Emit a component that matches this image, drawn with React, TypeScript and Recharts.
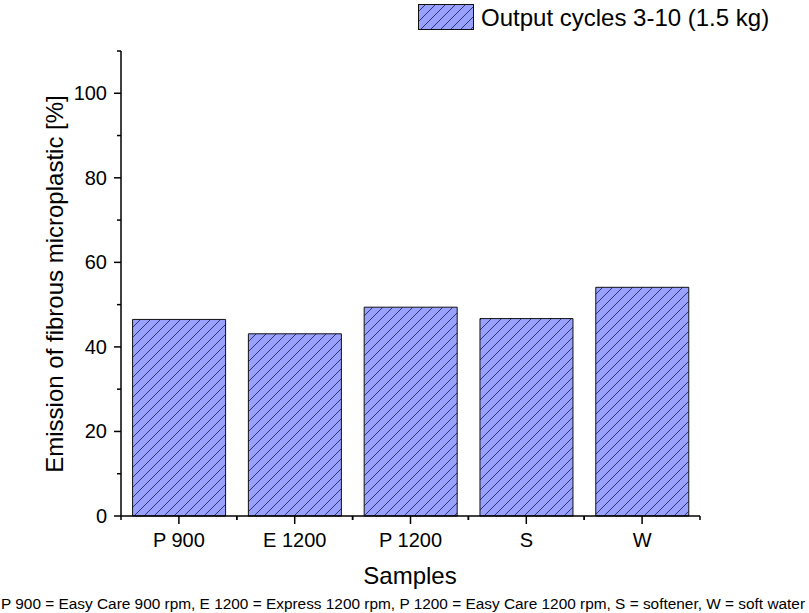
import { BarChart, Bar, XAxis, YAxis } from "recharts";

const samples = ["P 900", "E 1200", "P 1200", "S", "W"];
const emission = [46.5, 43.1, 49.4, 46.7, 54.1];
const yTicks = [0, 10, 20, 30, 40, 50, 60, 70, 80, 90, 100, 110];
const yLabelled = [0, 20, 40, 60, 80, 100];
const seriesName = "Output cycles 3-10 (1.5 kg)";
const yTitle = "Emission of fibrous microplastic [%]";
const xTitle = "Samples";
const footnote =
  "P 900 = Easy Care 900 rpm, E 1200 = Express 1200 rpm, P 1200 = Easy Care 1200 rpm, S = softener, W = soft water";

const data = samples.map((s, i) => ({ sample: s, value: emission[i] }));

const FONT = "Arial, 'Liberation Sans', sans-serif";
const FILL = "#99a1ff";
const HATCH = "#2f3470";

function YTick(props: any) {
  const { x, y, payload } = props;
  const major = yLabelled.includes(payload.value);
  return (
    <g>
      <line x1={x} x2={x - (major ? 7 : 4)} y1={y} y2={y} stroke="#000" strokeWidth={1.5} />
      {major && (
        <text x={x - 14} y={y} dy={7} textAnchor="end" fontSize={20} fontFamily={FONT} fill="#000">
          {payload.value}
        </text>
      )}
    </g>
  );
}

function XTick(props: any) {
  const { x, y, payload, width, visibleTicksCount } = props;
  const half = width / visibleTicksCount / 2;
  return (
    <g>
      <line x1={x} x2={x} y1={y} y2={y + 8} stroke="#000" strokeWidth={1.5} />
      <line x1={x - half} x2={x - half} y1={y} y2={y + 4} stroke="#000" strokeWidth={1.5} />
      <line x1={x + half} x2={x + half} y1={y} y2={y + 4} stroke="#000" strokeWidth={1.5} />
      <text x={x} y={y + 31} textAnchor="middle" fontSize={20} fontFamily={FONT} fill="#000">
        {payload.value}
      </text>
    </g>
  );
}

// diagonal hatch, as in the original plot
function HatchPattern({ id }: { id: string }) {
  return (
    <pattern id={id} patternUnits="userSpaceOnUse" width={10} height={10}>
      <rect width={10} height={10} fill={FILL} />
      <path d="M0,10 L10,0 M-2,2 L2,-2 M8,12 L12,8" stroke={HATCH} strokeWidth={1} />
    </pattern>
  );
}

export default function App() {
  return (
    <div style={{ position: "absolute", left: 0, top: 0, width: 809, height: 613, background: "#fff" }}>
      <BarChart
        width={809}
        height={613}
        data={data}
        margin={{ top: 51, right: 109, bottom: 0, left: 0 }}
        barCategoryGap="10%"
      >
        <defs>
          <HatchPattern id="hatch" />
        </defs>
        <XAxis
          dataKey="sample"
          height={97}
          interval={0}
          tickSize={0}
          tickMargin={0}
          tickLine={false}
          axisLine={{ stroke: "#000", strokeWidth: 1.5 }}
          tick={XTick}
        />
        <YAxis
          width={121}
          domain={[0, 110]}
          ticks={yTicks}
          interval={0}
          tickSize={0}
          tickMargin={0}
          tickLine={false}
          axisLine={{ stroke: "#000", strokeWidth: 1.5 }}
          tick={YTick}
        />
        <Bar dataKey="value" name={seriesName} fill="url(#hatch)" stroke="#111" strokeWidth={1} isAnimationActive={false} />
      </BarChart>
      <svg
        width={809}
        height={613}
        style={{ position: "absolute", left: 0, top: 0, pointerEvents: "none" }}
      >
        <defs>
          <HatchPattern id="hatchLegend" />
        </defs>
        <rect x={418.5} y={4.5} width={55} height={25} fill="url(#hatchLegend)" stroke="#111" strokeWidth={1} />
        <text x={481} y={26} fontSize={24} fontFamily={FONT} fill="#000">
          {seriesName}
        </text>
        <text
          x={63}
          y={284}
          transform="rotate(-90, 63, 284)"
          textAnchor="middle"
          fontSize={24}
          fontFamily={FONT}
          fill="#000"
        >
          {yTitle}
        </text>
        <text x={410} y={584} textAnchor="middle" fontSize={24} fontFamily={FONT} fill="#000">
          {xTitle}
        </text>
        <text x={1} y={609} fontSize={15.4} fontFamily={FONT} fill="#000">
          {footnote}
        </text>
      </svg>
    </div>
  );
}
